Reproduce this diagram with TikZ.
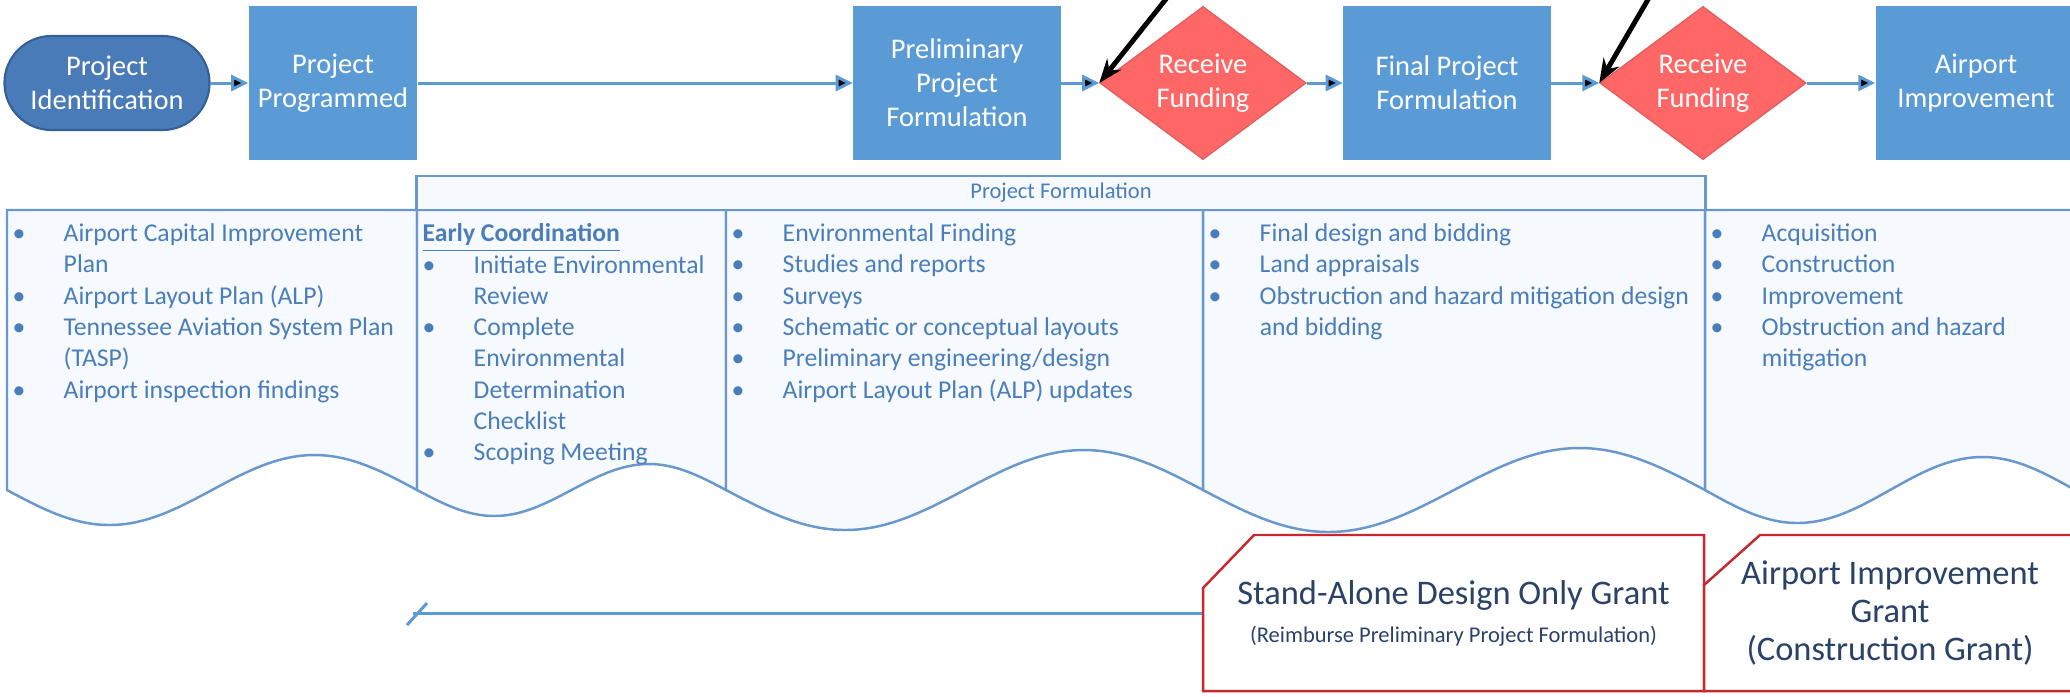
\documentclass[tikz,border=0pt]{standalone}
\usepackage{fontspec}
\setmainfont{Carlito}
\usepackage{tikz}
\usetikzlibrary{positioning, arrows.meta, shapes.geometric}

\definecolor{boxblue}{RGB}{91,155,213}
\definecolor{pillblue}{RGB}{72,123,184}
\definecolor{pillrim}{RGB}{52,96,150}
\definecolor{fundred}{RGB}{255,102,102}
\definecolor{fundrim}{RGB}{225,95,95}
\definecolor{colline}{RGB}{104,152,206}
\definecolor{colfill}{RGB}{246,249,253}
\definecolor{coltext}{RGB}{74,126,187}
\definecolor{grantred}{RGB}{200,40,45}
\definecolor{granttext}{RGB}{42,66,104}

\newcommand{\bul}{\makebox[0.51cm][l]{\textbullet}}
\newcommand{\ind}{\hspace*{0.51cm}}

\begin{document}
\begin{tikzpicture}[x=0.01cm, y=-0.01cm,
        stepbox/.style={rectangle,fill=boxblue,text=white,inner sep=0pt,align=center,
            minimum width=2.07cm,minimum height=1.54cm,font=\fontsize{8.1}{9.7}\selectfont},
        startbox/.style={rectangle,rounded corners=0.47cm,fill=pillblue,draw=pillrim,line width=0.6pt,
            text=white,inner sep=0pt,align=center,minimum width=2.05cm,minimum height=0.94cm,
            font=\fontsize{8.1}{9.7}\selectfont},
        fund/.style={diamond,aspect=1.35,fill=fundred,draw=fundrim,line width=0.4pt,text=white,
            inner sep=0pt,align=center,minimum width=2.06cm,minimum height=1.53cm,
            font=\fontsize{8.1}{9.7}\selectfont},
        flow/.style={draw=boxblue,line width=0.85pt,-{Triangle[length=0.17cm,width=0.16cm]}},
        callout/.style={draw=black,line width=1.4pt,-{Stealth[length=0.24cm,width=0.18cm]}},
        colbox/.style={draw=colline,fill=colfill,line width=0.7pt},
        headbox/.style={rectangle,draw=colline,fill=colfill,line width=0.7pt,inner sep=0pt,
            minimum width=12.88cm,minimum height=0.34cm,text=coltext,font=\fontsize{6.4}{7.7}\selectfont},
        coltxt/.style={anchor=north west,align=left,inner sep=0pt,text=coltext,
            font=\fontsize{7.3}{8.9}\selectfont},
        grant/.style={rectangle,inner sep=0pt,align=center,text=granttext,
            minimum height=1.56cm,font=\fontsize{9.8}{10.8}\selectfont},
        grantline/.style={draw=grantred,line width=0.7pt,fill=white},
        backline/.style={draw=boxblue,line width=0.85pt}]

        \path[use as bounding box,fill=white] (0,0) rectangle (2070,696);

        \node[startbox] (ident)  at (107,83)  {Project\\Identification};
        \node[stepbox,minimum width=1.68cm] (prog) at (333,83) {Project\\Programmed};
        \node[stepbox] (prelim) at (957,83)  {Preliminary\\Project\\Formulation};
        \node[fund]    (fundA)  at (1203,83) {Receive\\Funding};
        \node[stepbox] (final)  at (1447,83) {Final Project\\Formulation};
        \node[fund]    (fundB)  at (1703,83) {Receive\\Funding};
        \node[stepbox,minimum width=2.0cm] (airimp) at (1976,83) {Airport\\Improvement};

        \coordinate (tipA) at (1201,-45);
        \coordinate (tipB) at (1674,-45);

        \path[flow]
                  (ident)  edge [] (prog)
                  (prog)   edge [] (prelim)
                  (prelim) edge [] (fundA)
                  (fundA)  edge [] (final)
                  (final)  edge [] (fundB)
                  (fundB)  edge [] (airimp);

        \path[callout]
                  (tipA) edge [] (fundA.west)
                  (tipB) edge [] (fundB.west);

        \draw[colbox] (7,210) -- (7,490) sin ++(102.5,35) cos ++(102.5,-35)
                  sin ++(102.5,-35) cos ++(102.5,35) -- (417,210) -- cycle;
        \draw[colbox] (417,210) -- (417,490) sin ++(77.25,26) cos ++(77.25,-26)
                  sin ++(77.25,-26) cos ++(77.25,26) -- (726,210) -- cycle;
        \draw[colbox] (726,210) -- (726,490) sin ++(119.25,40) cos ++(119.25,-40)
                  sin ++(119.25,-40) cos ++(119.25,40) -- (1203,210) -- cycle;
        \draw[colbox] (1203,210) -- (1203,490) sin ++(125.5,42) cos ++(125.5,-42)
                  sin ++(125.5,-42) cos ++(125.5,42) -- (1705,210) -- cycle;
        \draw[colbox] (1705,210) -- (1705,490) sin ++(92.5,33) cos ++(92.5,-33)
                  sin ++(92.5,-33) cos ++(92.5,33) -- (2075,210) -- cycle;

        \node[headbox] (pfhead) at (1061,193) {Project Formulation};

        \node[coltxt] (capital) at (12,223) {\bul Airport Capital Improvement\\
            \ind Plan\\ \bul Airport Layout Plan (ALP)\\ \bul Tennessee Aviation System Plan\\
            \ind (TASP)\\ \bul Airport inspection findings};
        \node[coltxt] (coord) at (422,223) {\underline{\textbf{Early Coordination}}\\
            \bul Initiate Environmental\\ \ind Review\\ \bul Complete\\ \ind Environmental\\
            \ind Determination\\ \ind Checklist\\ \bul Scoping Meeting};
        \node[coltxt] (envfind) at (731,223) {\bul Environmental Finding\\ \bul Studies and reports\\
            \bul Surveys\\ \bul Schematic or conceptual layouts\\ \bul Preliminary engineering/design\\
            \bul Airport Layout Plan (ALP) updates};
        \node[coltxt] (finaldes) at (1208,223) {\bul Final design and bidding\\ \bul Land appraisals\\
            \bul Obstruction and hazard mitigation design\\ \ind and bidding};
        \node[coltxt] (acquis) at (1710,223) {\bul Acquisition\\ \bul Construction\\ \bul Improvement\\
            \bul Obstruction and hazard\\ \ind mitigation};

        \draw[grantline] (1203,691) -- (1203,588) -- (1254,535) -- (1704,535) -- (1704,691) -- cycle;
        \draw[grantline] (1704,691) -- (1704,585) -- (1760,535) -- (2080,535) -- (2080,691) -- cycle;

        \node[grant,minimum width=5.01cm] (sago) at (1453.5,613) {Stand-Alone Design Only Grant\\
            {\fontsize{6.4}{7.7}\selectfont (Reimburse Preliminary Project Formulation)}};
        \node[grant,minimum width=3.72cm] (aipgrant) at (1890,613) {Airport Improvement\\ Grant\\ (Construction Grant)};

        \coordinate (sagoend) at (413,613);
        \draw[backline] (sago) -- (sagoend);
        \draw[backline] ([xshift=-0.06cm,yshift=-0.12cm]sagoend) -- ([xshift=0.14cm,yshift=0.10cm]sagoend);
    \end{tikzpicture}
\end{document}
